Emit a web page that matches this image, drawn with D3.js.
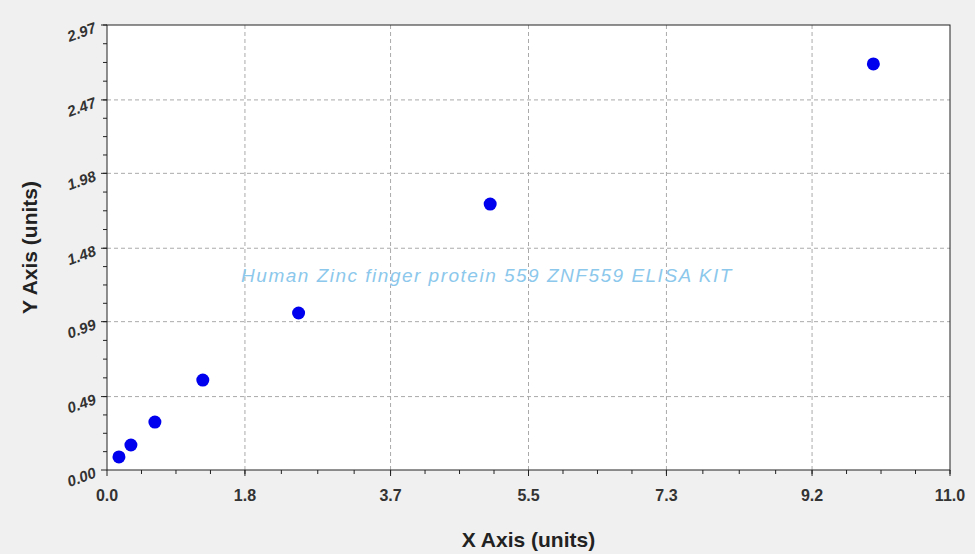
<!DOCTYPE html><html><head><meta charset="utf-8"><script src="https://d3js.org/d3.v7.min.js"></script>
<style>body{margin:0;background:#f0f0f0}</style></head><body><svg id="c" width="975" height="554"></svg>
<script>
const xVals=[0.156,0.312,0.625,1.25,2.5,5,10];
const yVals=[0.087,0.167,0.32,0.60,1.048,1.775,2.71];
const xTicks=[0,1.8,3.7,5.5,7.3,9.2,11.0];
const yTicks=[0,0.49,0.99,1.48,1.98,2.47,2.97];
const title="Human Zinc finger protein 559 ZNF559 ELISA KIT";
const svg=d3.select("#c");
const L=107,R=950,T=25,B=470;
const x=d3.scaleLinear().domain([0,11]).range([L,R]);
const y=d3.scaleLinear().domain([0,2.97]).range([B,T]);
svg.append("rect").attr("x",L).attr("y",T).attr("width",R-L).attr("height",B-T).attr("fill","#fff");
const g=svg.append("g");
xTicks.slice(1,-1).forEach(t=>g.append("line").attr("x1",x(t)).attr("x2",x(t)).attr("y1",T).attr("y2",B).attr("stroke","#aaa").attr("stroke-dasharray","4,3"));
yTicks.slice(1,-1).forEach(t=>g.append("line").attr("y1",y(t)).attr("y2",y(t)).attr("x1",L).attr("x2",R).attr("stroke","#aaa").attr("stroke-dasharray","4,3"));
svg.append("rect").attr("x",L).attr("y",T).attr("width",R-L).attr("height",B-T).attr("fill","none").attr("stroke","#222");
for(let i=0;i<xTicks.length-1;i++)for(let k=0;k<=4;k++){const v=xTicks[i]+(xTicks[i+1]-xTicks[i])*k/4;svg.append("line").attr("x1",x(v)).attr("x2",x(v)).attr("y1",B).attr("y2",B+(k==0?6:4)).attr("stroke","#222");}
svg.append("line").attr("x1",x(11)).attr("x2",x(11)).attr("y1",B).attr("y2",B+6).attr("stroke","#222");
for(let i=0;i<yTicks.length-1;i++)for(let k=0;k<=4;k++){const v=yTicks[i]+(yTicks[i+1]-yTicks[i])*k/4;svg.append("line").attr("y1",y(v)).attr("y2",y(v)).attr("x1",L).attr("x2",L-(k==0?6:4)).attr("stroke","#222");}
svg.append("line").attr("y1",y(2.97)).attr("y2",y(2.97)).attr("x1",L).attr("x2",L-6).attr("stroke","#222");
const f="Arial, 'Liberation Sans', sans-serif";
xTicks.forEach(t=>svg.append("text").attr("x",x(t)).attr("y",B+31).attr("text-anchor","middle").attr("font-family",f).attr("font-weight","bold").attr("font-size",16).attr("fill","#333").text(t.toFixed(1)));
yTicks.forEach(t=>svg.append("text").attr("transform",`translate(${L-10},${y(t)+7}) rotate(-20)`).attr("text-anchor","end").attr("font-family",f).attr("font-weight","bold").attr("font-style","italic").attr("font-size",15).attr("fill","#333").text(t.toFixed(2)));
svg.append("text").attr("x",(L+R)/2).attr("y",547).attr("text-anchor","middle").attr("font-family",f).attr("font-weight","bold").attr("font-size",21).attr("fill","#222").text("X Axis (units)");
svg.append("text").attr("transform",`translate(37,${(T+B)/2}) rotate(-90)`).attr("text-anchor","middle").attr("font-family",f).attr("font-weight","bold").attr("font-size",21).attr("fill","#222").text("Y Axis (units)");
svg.append("text").attr("x",487).attr("y",282).attr("text-anchor","middle").attr("font-family",f).attr("font-style","italic").attr("font-size",19).attr("letter-spacing",1.5).attr("fill","#8cc8ec").text(title);
svg.selectAll("circle.p").data(xVals).join("circle").attr("cx",d=>x(d)).attr("cy",(d,i)=>y(yVals[i])).attr("r",6.5).attr("fill","#0000ee");
</script></body></html>
